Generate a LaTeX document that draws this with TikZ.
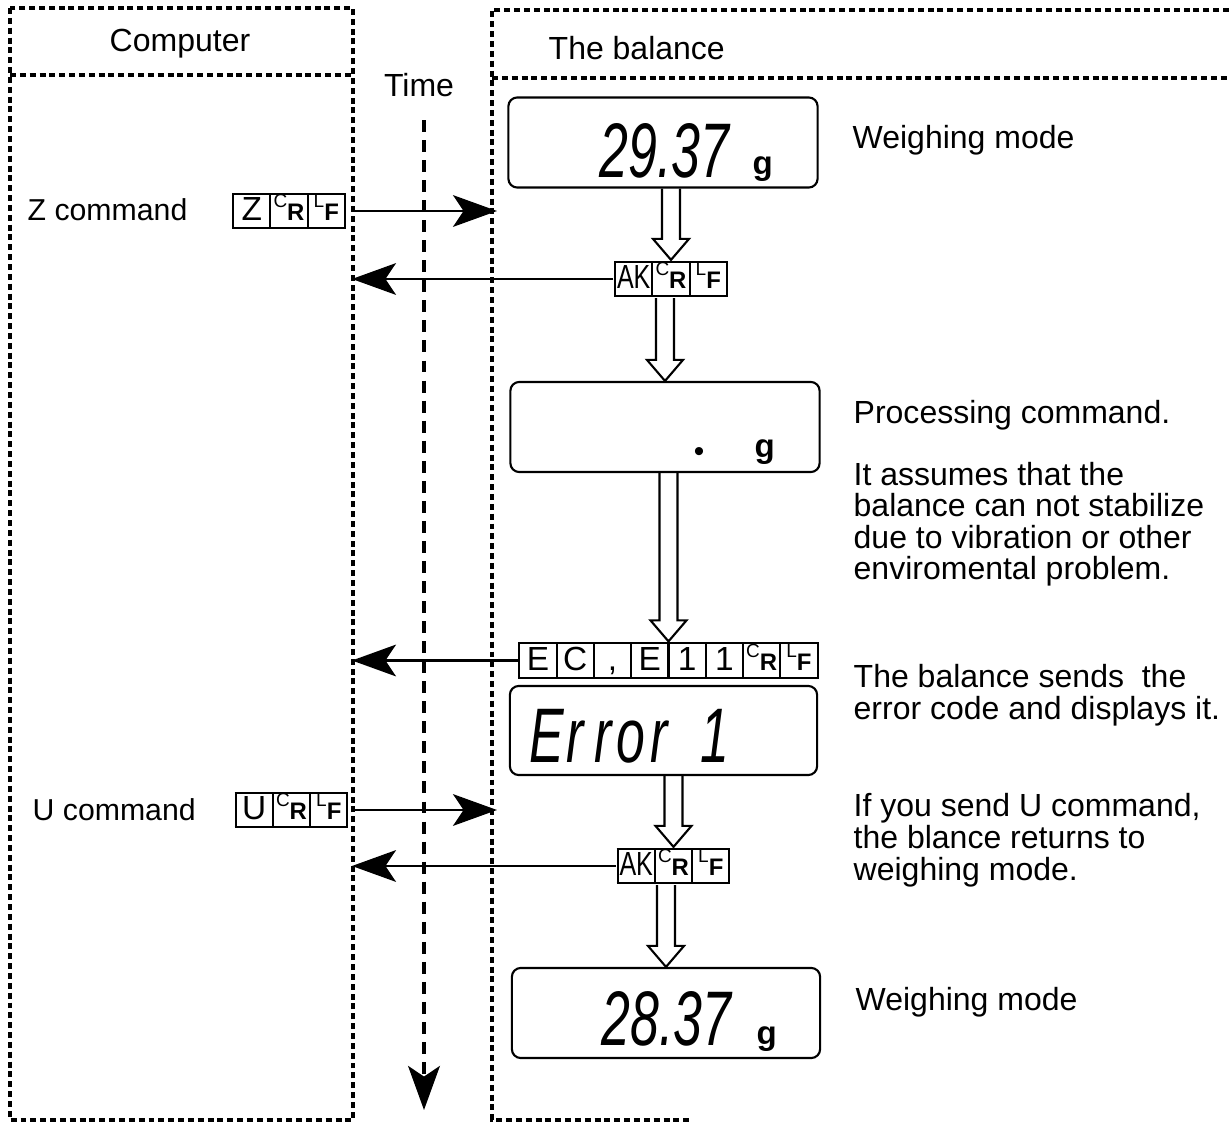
\documentclass[tikz,border=0pt]{standalone}
\usepackage{fontspec}
\setmainfont{Liberation Sans}
\usepackage{graphicx}
\usepackage{array}
\usetikzlibrary{arrows.meta, calc, positioning}

\setlength{\arrayrulewidth}{0.6pt}
\newcommand{\crsym}{\raisebox{3.6pt}{\fontsize{5.4}{5.4}\selectfont C}\fontsize{6.8}{6.8}\selectfont\bfseries R}
\newcommand{\lfsym}{\raisebox{3.6pt}{\fontsize{5.4}{5.4}\selectfont L}\fontsize{6.8}{6.8}\selectfont\bfseries F}
\newcommand{\lcd}[1]{\scalebox{0.67}[1]{\fontsize{22}{22}\selectfont\itshape #1}}
\newcommand{\lc}[1]{\makebox[11.9pt][c]{#1}}
\newcommand{\codecells}[2]{{\setlength{\tabcolsep}{0pt}\renewcommand{\arraystretch}{0}%
  \begin{tabular}{|*{#1}{w{c}{10pt}|}}\hline \rule[-1.9pt]{0pt}{7.6pt}#2\\\hline\end{tabular}}}
\newcommand{\fatarrow}[2]{%
  \draw[fat] let \p1=(#1.south), \p2=(#2.north) in
    (\x2-0.09cm,\y1) -- (\x2-0.09cm,\y2+0.21cm) -- (\x2-0.18cm,\y2+0.21cm) -- (\x2,\y2)
    -- (\x2+0.18cm,\y2+0.21cm) -- (\x2+0.09cm,\y2+0.21cm) -- (\x2+0.09cm,\y1);}

\begin{document}
\begin{tikzpicture}[x=0.01cm,y=-0.01cm,>={Stealth[length=12.5pt,width=9pt,inset=3pt]},
  lane/.style={line width=1pt,dash pattern=on 1.7pt off 1.1pt},
  timeline/.style={line width=1.1pt,dash pattern=on 3.4pt off 2.3pt},
  lcdbox/.style={draw,line width=0.6pt,rounded corners=2.5pt,inner sep=0pt,
                 minimum width=3.09cm,minimum height=0.9cm},
  codebox/.style={inner sep=0pt,font=\fontsize{9.5}{7.6}\selectfont},
  msg/.style={->,line width=0.8pt},
  txt/.style={inner sep=0pt,font=\fontsize{9.1}{9}\selectfont,align=left},
  cmd/.style={inner sep=0pt,font=\fontsize{8.6}{9}\selectfont},
  unit/.style={inner sep=0pt,font=\fontsize{9.4}{9.4}\selectfont\bfseries},
  seg/.style={inner sep=0pt},
  fat/.style={line width=0.6pt}]
  \useasboundingbox (0,0) rectangle (1229,1124);
  % computer lane
  \draw[lane] (10,8) rectangle (353,1120);
  \draw[lane] (10,75) -- (353,75);
  \node[txt] (comp) at (180,44) {Computer};
  % balance lane
  \draw[lane] (1229,10) -- (492,10) -- (492,1120) -- (690,1120);
  \draw[lane] (492,78) -- (1229,78);
  \node[txt,anchor=base west] (bal) at (548,60) {The balance};
  % lane edges
  \coordinate (cedge) at (352,0);
  \coordinate (bedge) at (497,0);
  % time axis
  \node[txt] (time) at (419,85) {Time};
  \coordinate (tstart) at (424,120);
  \coordinate (tend) at (424,1110);
  \draw[timeline,->] (tstart) -- (tend);
  % displays
  \node[lcdbox] (d1) at (663,142.5) {};
  \node[seg,anchor=base east] (d1val) at (730,178) {\lcd{29.37}};
  \node[unit,anchor=base west] (d1unit) at (752,174) {g};
  \node[lcdbox] (d2) at (665,427) {};
  \node[seg,font=\fontsize{8.5}{8.5}\selectfont] (d2dot) at (699,455) {•};
  \node[unit,anchor=base west] (d2unit) at (754,458) {g};
  \node[lcdbox,minimum width=3.07cm,minimum height=0.89cm] (d3) at (663.5,730.5) {};
  \node[seg,anchor=base east] (d3val) at (730,762)
    {\lcd{\lc{E}\lc{r}\lc{r}\lc{o}\lc{r}\lc{}\lc{1}}};
  \node[lcdbox,minimum width=3.08cm] (d4) at (666,1013) {};
  \node[seg,anchor=base east] (d4val) at (732,1045) {\lcd{28.37}};
  \node[unit,anchor=base west] (d4unit) at (756,1044) {g};
  % codes
  \node[codebox] (ak1) at (671,279) {\codecells{3}{\scalebox{0.75}[1]{AK}&\crsym&\lfsym}};
  \node[codebox] (ec) at (668.5,660.5) {\codecells{8}{E&C&,&E&1&1&\crsym&\lfsym}};
  \node[codebox] (ak2) at (673.5,866) {\codecells{3}{\scalebox{0.75}[1]{AK}&\crsym&\lfsym}};
  \node[codebox] (zcode) at (289,211) {\codecells{3}{Z&\crsym&\lfsym}};
  \node[codebox] (ucode) at (291.5,810) {\codecells{3}{U&\crsym&\lfsym}};
  \node[cmd,anchor=base west] (zcmd) at (27,221) {Z command};
  \node[cmd,anchor=base west] (ucmd) at (32,820) {U command};
  % state changes
  \fatarrow{d1}{ak1}
  \fatarrow{ak1}{d2}
  \fatarrow{d2}{ec}
  \fatarrow{d3}{ak2}
  \fatarrow{ak2}{d4}
  % messages
  \draw[msg] (zcode -| cedge) -- (zcode -| bedge);
  \draw[msg] (ak1.west) -- (ak1 -| cedge);
  \draw[msg] (ec.west) -- (ec -| cedge);
  \draw[msg] (ucode -| cedge) -- (ucode -| bedge);
  \draw[msg] (ak2.west) -- (ak2 -| cedge);
  % notes (base = last line)
  \node[txt,anchor=base west] (n1) at (852,148) {Weighing mode};
  \node[txt,anchor=base west] (n2) at (853,423) {Processing command.};
  \node[txt,anchor=base west] (n3) at (853,580)
    {It assumes that the\\balance can not stabilize\\due to vibration or other\\enviromental problem.};
  \node[txt,anchor=base west] (n4) at (853,719) {The balance sends \ the\\error code and displays it.};
  \node[txt,anchor=base west] (n5) at (853,880) {If you send U command,\\the blance returns to\\weighing mode.};
  \node[txt,anchor=base west] (n6) at (855,1010) {Weighing mode};
\end{tikzpicture}
\end{document}
